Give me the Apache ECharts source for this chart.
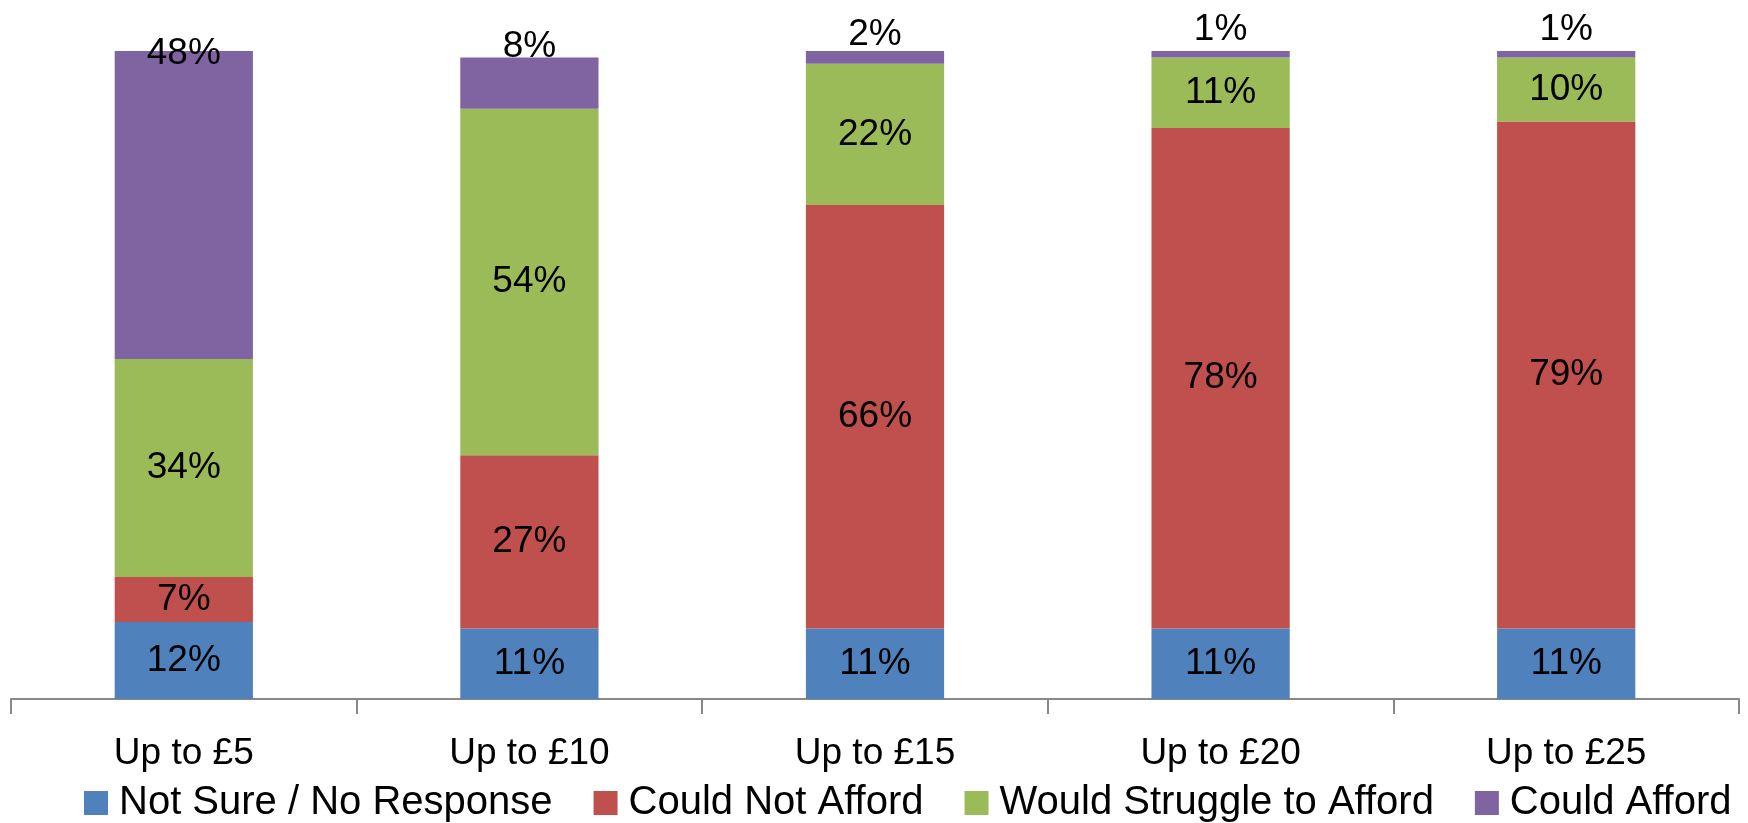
<!DOCTYPE html>
<html>
<head>
<meta charset="utf-8">
<script src="https://cdn.jsdelivr.net/npm/echarts@6/dist/echarts.min.js"></script>
<style>
  html, body { margin: 0; padding: 0; background: #ffffff; }
  #chart { width: 1748px; height: 823px; }
</style>
</head>
<body>
<div id="chart"></div>
<script>
// Price bands asked about
const categories = ['Up to £5', 'Up to £10', 'Up to £15', 'Up to £20', 'Up to £25'];

// Share of responses (%) per price band
const notSure = [12, 11, 11, 11, 11];
const couldNotAfford = [7, 27, 66, 78, 79];
const wouldStruggle = [34, 54, 22, 11, 10];
const couldAfford = [48, 8, 2, 1, 1];

const seriesNames = ['Not Sure / No Response', 'Could Not Afford', 'Would Struggle to Afford', 'Could Afford'];
const seriesColors = ['#4F81BD', '#C0504D', '#9BBB59', '#8064A2'];

// vertical nudges for the labels sitting on top of each column
const capLabelNudge = [21, 8, 2, -3, -3];

const FONT = 'Liberation Sans';
const FS = 37;

const chart = echarts.init(document.getElementById('chart'));

function centreSeries(name, values, color) {
  return {
    name: name,
    type: 'bar',
    stack: 'total',
    barWidth: '40%',
    data: values,
    itemStyle: { color: color },
    label: {
      show: true,
      position: 'inside',
      formatter: '{c}%',
      color: '#000000',
      fontFamily: FONT,
      fontSize: FS
    }
  };
}

const topSeries = {
  name: seriesNames[3],
  type: 'bar',
  stack: 'total',
  barWidth: '40%',
  itemStyle: { color: seriesColors[3] },
  data: couldAfford.map((v, i) => ({
    value: v,
    label: { offset: [0, capLabelNudge[i]] }
  })),
  label: {
    show: true,
    position: 'top',
    distance: 0,
    formatter: '{c}%',
    color: '#000000',
    fontFamily: FONT,
    fontSize: FS
  }
};

chart.setOption({
  animation: false,
  backgroundColor: '#ffffff',
  grid: { left: 11, right: 9, top: 51, bottom: 124 },
  legend: {
    data: seriesNames,
    left: 84,
    top: 783,
    padding: 0,
    icon: 'rect',
    itemWidth: 24,
    itemHeight: 24,
    itemGap: 41,
    textStyle: { fontFamily: FONT, fontSize: 40, color: '#000000', padding: [0, 0, 0, 6] }
  },
  xAxis: {
    type: 'category',
    data: categories,
    axisLine: { lineStyle: { color: '#888888', width: 2 } },
    axisTick: { show: true, length: 15, lineStyle: { color: '#888888', width: 2 } },
    axisLabel: { margin: 36, color: '#000000', fontFamily: FONT, fontSize: FS }
  },
  yAxis: {
    type: 'value',
    min: 0,
    max: 101,
    show: false,
    splitLine: { show: false }
  },
  series: [
    centreSeries(seriesNames[0], notSure, seriesColors[0]),
    centreSeries(seriesNames[1], couldNotAfford, seriesColors[1]),
    centreSeries(seriesNames[2], wouldStruggle, seriesColors[2]),
    topSeries
  ]
});
</script>
</body>
</html>
